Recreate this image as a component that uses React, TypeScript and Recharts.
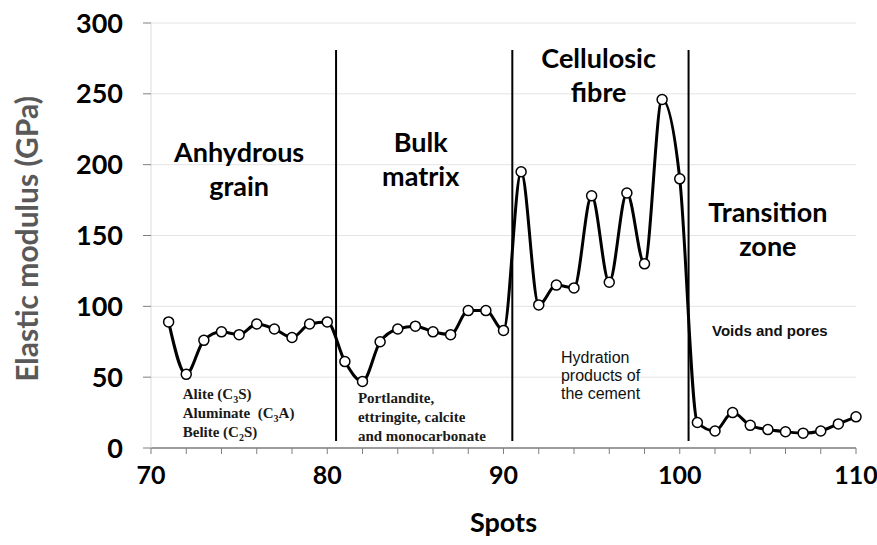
import React from "react";
import {
  LineChart,
  Line,
  XAxis,
  YAxis,
  CartesianGrid,
  ReferenceLine,
  ReferenceDot,
} from "recharts";

const spots = [
  71, 72, 73, 74, 75, 76, 77, 78, 79, 80,
  81, 82, 83, 84, 85, 86, 87, 88, 89, 90,
  91, 92, 93, 94, 95, 96, 97, 98, 99, 100,
  101, 102, 103, 104, 105, 106, 107, 108, 109, 110,
];
const modulus = [
  89, 52, 76, 82, 80, 87.5, 84, 78, 87.5, 89,
  61, 47, 75, 84, 86, 82, 80, 97, 97, 83,
  195, 101, 115, 113, 178, 117, 180, 130, 246, 190,
  18, 12, 25, 16, 13, 11.5, 10.5, 12, 17, 22,
];
const xTicks = [70, 72, 74, 76, 78, 80, 82, 84, 86, 88, 90, 92, 94, 96, 98, 100, 102, 104, 106, 108, 110];
const yTicks = [0, 50, 100, 150, 200, 250, 300];
const boundaries = [80.5, 90.5, 100.5];
const boundaryTop = 281;
const boundaryBottom = 5;

// zone titles (centered) and notes (left aligned), anchored in data units
const zoneTitles = [
  { x: 75, y: 202, lines: ["Anhydrous", "grain"] },
  { x: 85.3, y: 209, lines: ["Bulk", "matrix"] },
  { x: 95.4, y: 268, lines: ["Cellulosic", "fibre"] },
  { x: 105, y: 159.5, lines: ["Transition", "zone"] },
];
const serifNotes = [
  { x: 71.8, y: 34.6, lines: ["Alite (C_3S)", "Aluminate\u00a0\u00a0(C_3A)", "Belite (C_2S)"] },
  { x: 81.74, y: 31.8, lines: ["Portlandite,", "ettringite, calcite", "and monocarbonate"] },
];
const sansNotes = [
  { x: 93.26, y: 60, lines: ["Hydration", "products of", "the cement"], bold: false },
  { x: 101.83, y: 79, lines: ["Voids and pores"], bold: true },
];

const data = spots.map((s, i) => ({ spot: s, modulus: modulus[i] }));

const FONT = "Lato, 'Open Sans', sans-serif";

function withSubs(line: string) {
  const parts = line.split(/_(\d)/);
  return parts.map((p, i) =>
    i % 2 === 1 ? (
      <tspan key={i} fontSize={10} dy={4}>
        {p}
      </tspan>
    ) : i > 0 ? (
      <tspan key={i} dy={-4}>
        {p}
      </tspan>
    ) : (
      <tspan key={i}>{p}</tspan>
    )
  );
}

export default function App() {
  return (
    <div style={{ position: "fixed", left: 0, top: 0, background: "#fff" }}>
      <LineChart
        width={877}
        height={545}
        data={data}
        margin={{ top: 23, right: 21, bottom: 0, left: 0 }}
      >
        <CartesianGrid vertical={false} stroke="#e4e4e4" />
        <XAxis
          dataKey="spot"
          type="number"
          domain={[70, 110]}
          ticks={xTicks}
          interval={0}
          height={97}
          tickSize={6}
          tickMargin={12}
          tickFormatter={(v) => (v % 10 === 0 ? String(v) : "")}
          tick={{ fontFamily: FONT, fontSize: 25, fontWeight: 700, fill: "#000" }}
          tickLine={{ stroke: "#7f7f7f" }}
          axisLine={{ stroke: "#7f7f7f", strokeWidth: 1.5 }}
          label={{
            content: (p: any) => {
              const vb = p.viewBox;
              return (
                <text
                  x={vb.x + vb.width / 2}
                  y={vb.y + 84}
                  textAnchor="middle"
                  fontFamily={FONT}
                  fontSize={27}
                  fontWeight={700}
                  fill="#000"
                >
                  Spots
                </text>
              );
            },
          }}
        />
        <YAxis
          type="number"
          domain={[0, 300]}
          ticks={yTicks}
          width={151}
          tickSize={8}
          tickMargin={20}
          tick={{ fontFamily: FONT, fontSize: 27, fontWeight: 700, fill: "#000" }}
          tickLine={{ stroke: "#7f7f7f" }}
          axisLine={{ stroke: "#dcdcdc" }}
          label={{
            content: (p: any) => {
              const vb = p.viewBox;
              const cx = vb.x + 26;
              const cy = vb.y + 216;
              return (
                <text
                  x={cx}
                  y={cy}
                  transform={`rotate(-90 ${cx} ${cy})`}
                  textAnchor="middle"
                  dominantBaseline="central"
                  fontFamily={FONT}
                  fontSize={30}
                  fontWeight={700}
                  fill="#595959"
                >
                  Elastic modulus (GPa)
                </text>
              );
            },
          }}
        />
        {boundaries.map((b) => (
          <ReferenceLine
            key={b}
            segment={[
              { x: b, y: boundaryBottom },
              { x: b, y: boundaryTop },
            ]}
            stroke="#000"
            strokeWidth={2}
          />
        ))}
        {zoneTitles.map((z, i) => (
          <ReferenceDot
            key={"z" + i}
            x={z.x}
            y={z.y}
            r={0}
            ifOverflow="visible"
            shape={(p: any) => (
              <text
                x={p.cx}
                y={p.cy}
                textAnchor="middle"
                fontFamily={FONT}
                fontSize={27}
                fontWeight={700}
                fill="#000"
              >
                {z.lines.map((l, j) => (
                  <tspan key={j} x={p.cx} dy={j === 0 ? 0 : 34}>
                    {l}
                  </tspan>
                ))}
              </text>
            )}
          />
        ))}
        {serifNotes.map((n, i) => (
          <ReferenceDot
            key={"s" + i}
            x={n.x}
            y={n.y}
            r={0}
            ifOverflow="visible"
            shape={(p: any) => (
              <g>
                {n.lines.map((l, j) => (
                  <text
                    key={j}
                    x={p.cx}
                    y={p.cy + j * 19}
                    fontFamily="'Liberation Serif', 'Times New Roman', serif"
                    fontSize={15}
                    fontWeight={700}
                    fill="#1a1a1a"
                  >
                    {withSubs(l)}
                  </text>
                ))}
              </g>
            )}
          />
        ))}
        {sansNotes.map((n, i) => (
          <ReferenceDot
            key={"n" + i}
            x={n.x}
            y={n.y}
            r={0}
            ifOverflow="visible"
            shape={(p: any) => (
              <text
                x={p.cx}
                y={p.cy}
                fontFamily="'Liberation Sans', Arial, sans-serif"
                fontSize={n.bold ? 15 : 16}
                fontWeight={n.bold ? 700 : 400}
                fill="#111"
              >
                {n.lines.map((l, j) => (
                  <tspan key={j} x={p.cx} dy={j === 0 ? 0 : 18}>
                    {l}
                  </tspan>
                ))}
              </text>
            )}
          />
        ))}
        <Line
          type="monotone"
          dataKey="modulus"
          stroke="#000"
          strokeWidth={3}
          dot={{ r: 5, fill: "#fff", stroke: "#000", strokeWidth: 1.5 }}
          activeDot={false}
          isAnimationActive={false}
        />
      </LineChart>
    </div>
  );
}
